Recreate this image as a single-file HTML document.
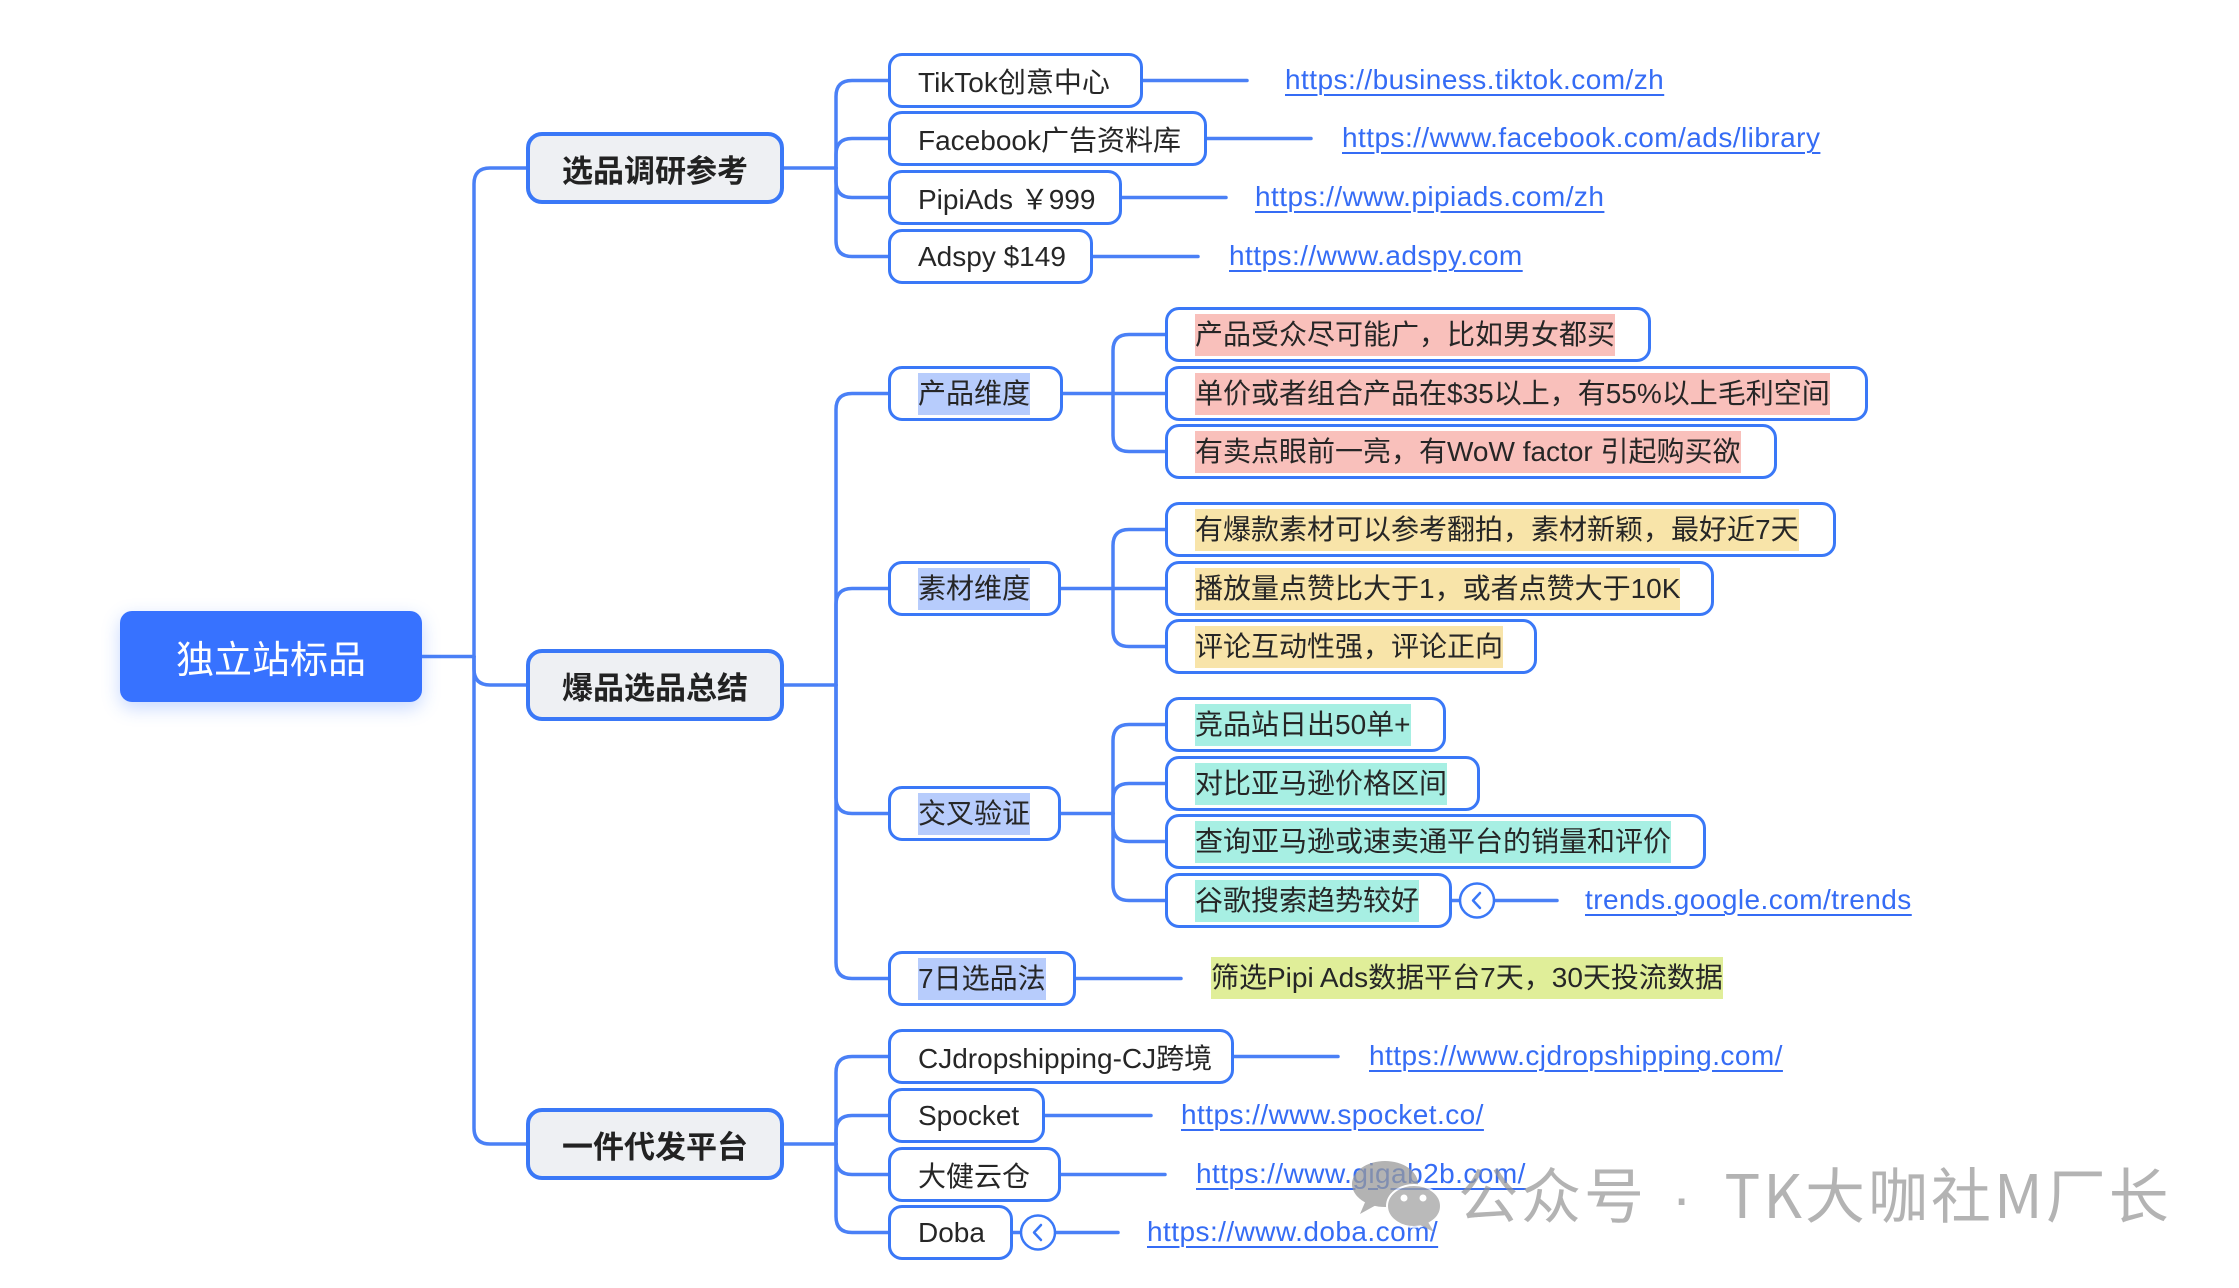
<!DOCTYPE html>
<html>
<head>
<meta charset="utf-8">
<style>
  html,body{margin:0;padding:0;background:#fff;}
  body{width:2239px;height:1288px;position:relative;overflow:hidden;
    font-family:"Liberation Sans","Noto Sans CJK SC",sans-serif;color:#262626;}
  .b{position:absolute;box-sizing:border-box;border:3.5px solid #3a78f7;border-radius:14px;background:#fff;
     display:flex;align-items:center;padding-left:27px;font-size:28px;white-space:nowrap;}
  .l1{position:absolute;box-sizing:border-box;border:4px solid #3a78f7;border-radius:16px;background:#eef0f3;
     display:flex;align-items:center;justify-content:center;font-size:31px;font-weight:bold;white-space:nowrap;color:#222;left:526px;width:258px;height:72px;}
  .h{display:inline-block;height:42px;line-height:42px;}
  .pk{background:#f9c0bb;}
  .yl{background:#f8e4a9;}
  .tl{background:#a7efe3;}
  .bl{background:#b7ccfc;}
  .lm{background:#e0ee99;}
  .lk{position:absolute;font-size:28px;line-height:42px;height:42px;color:#356cf5;text-decoration:underline;text-underline-offset:5px;text-decoration-thickness:2px;white-space:nowrap;letter-spacing:0.45px;}
  .root{position:absolute;left:120px;top:611px;width:302px;height:91px;background:#3772ff;border-radius:12px;
    box-shadow:0 6px 18px rgba(55,114,255,0.28);color:#fff;font-size:38px;display:flex;align-items:center;justify-content:center;}
  svg{position:absolute;left:0;top:0;}
</style>
</head>
<body>
<svg width="2239" height="1288" viewBox="0 0 2239 1288">
  <g fill="none" stroke="#4a80f6" stroke-width="3.5" stroke-linecap="round">
    <path d="M422 656.5 L474 656.5"/>
    <path d="M474 656.5 L474 184 Q474 168 490 168 L526 168"/>
    <path d="M474 656.5 L474 669 Q474 685 490 685 L526 685"/>
    <path d="M474 656.5 L474 1128 Q474 1144 490 1144 L526 1144"/>
    <path d="M784 168 L836 168"/>
    <path d="M836 168 L836 96.5 Q836 80.5 852 80.5 L888 80.5"/>
    <path d="M836 168 L836 154.5 Q836 138.5 852 138.5 L888 138.5"/>
    <path d="M836 168 L836 181.5 Q836 197.5 852 197.5 L888 197.5"/>
    <path d="M836 168 L836 240.5 Q836 256.5 852 256.5 L888 256.5"/>
    <path d="M784 685 L836 685"/>
    <path d="M836 685 L836 409.5 Q836 393.5 852 393.5 L888 393.5"/>
    <path d="M836 685 L836 604.5 Q836 588.5 852 588.5 L888 588.5"/>
    <path d="M836 685 L836 797.5 Q836 813.5 852 813.5 L888 813.5"/>
    <path d="M836 685 L836 962.5 Q836 978.5 852 978.5 L888 978.5"/>
    <path d="M784 1144 L836 1144"/>
    <path d="M836 1144 L836 1072.5 Q836 1056.5 852 1056.5 L888 1056.5"/>
    <path d="M836 1144 L836 1131.5 Q836 1115.5 852 1115.5 L888 1115.5"/>
    <path d="M836 1144 L836 1158.5 Q836 1174.5 852 1174.5 L888 1174.5"/>
    <path d="M836 1144 L836 1216.5 Q836 1232.5 852 1232.5 L888 1232.5"/>
    <path d="M1063 393.5 L1165 393.5"/>
    <path d="M1113 393.5 L1113 350.5 Q1113 334.5 1129 334.5 L1165 334.5"/>
    <path d="M1113 393.5 L1113 435.5 Q1113 451.5 1129 451.5 L1165 451.5"/>
    <path d="M1061 588.5 L1165 588.5"/>
    <path d="M1113 588.5 L1113 545.5 Q1113 529.5 1129 529.5 L1165 529.5"/>
    <path d="M1113 588.5 L1113 630.5 Q1113 646.5 1129 646.5 L1165 646.5"/>
    <path d="M1061 813.5 L1113 813.5"/>
    <path d="M1113 813.5 L1113 740.5 Q1113 724.5 1129 724.5 L1165 724.5"/>
    <path d="M1113 813.5 L1113 799.5 Q1113 783.5 1129 783.5 L1165 783.5"/>
    <path d="M1113 813.5 L1113 825.5 Q1113 841.5 1129 841.5 L1165 841.5"/>
    <path d="M1113 813.5 L1113 884.5 Q1113 900.5 1129 900.5 L1165 900.5"/>
    <path d="M1143 80.5 L1247 80.5"/>
    <path d="M1207 138.5 L1311 138.5"/>
    <path d="M1122 197.5 L1226 197.5"/>
    <path d="M1093 256.5 L1198 256.5"/>
    <path d="M1452 900.5 L1460 900.5"/>
    <path d="M1494 900.5 L1557 900.5"/>
    <path d="M1076 978.5 L1181 978.5"/>
    <path d="M1234 1056.5 L1338 1056.5"/>
    <path d="M1045 1115.5 L1151 1115.5"/>
    <path d="M1061 1174.5 L1165 1174.5"/>
    <path d="M1013 1232.5 L1021 1232.5"/>
    <path d="M1055 1232.5 L1118 1232.5"/>
  </g>
  <g fill="#fff" stroke="#3a78f7" stroke-width="2.5">
    <circle cx="1477" cy="900.5" r="17"/>
    <circle cx="1038" cy="1232.5" r="17"/>
  </g>
  <g fill="none" stroke="#3a78f7" stroke-width="2.5" stroke-linecap="round" stroke-linejoin="round">
    <path d="M1480 893 L1473 900.5 L1480 908"/>
    <path d="M1041 1225 L1034 1232.5 L1041 1240"/>
  </g>
</svg>

<div class="root">独立站标品</div>

<div class="l1" style="top:132px;">选品调研参考</div>
<div class="l1" style="top:649px;">爆品选品总结</div>
<div class="l1" style="top:1108px;">一件代发平台</div>

<div class="b" style="left:888px;top:53px;width:255px;height:55px;">TikTok创意中心</div>
<div class="b" style="left:888px;top:111px;width:319px;height:55px;">Facebook广告资料库</div>
<div class="b" style="left:888px;top:170px;width:234px;height:55px;">PipiAds ￥999</div>
<div class="b" style="left:888px;top:229px;width:205px;height:55px;">Adspy $149</div>

<div class="lk" style="left:1285px;top:59px;">https://business.tiktok.com/zh</div>
<div class="lk" style="left:1342px;top:117px;">https://www.facebook.com/ads/library</div>
<div class="lk" style="left:1255px;top:176px;">https://www.pipiads.com/zh</div>
<div class="lk" style="left:1229px;top:235px;">https://www.adspy.com</div>

<div class="b" style="left:888px;top:366px;width:175px;height:55px;"><span class="h bl">产品维度</span></div>
<div class="b" style="left:888px;top:561px;width:173px;height:55px;"><span class="h bl">素材维度</span></div>
<div class="b" style="left:888px;top:786px;width:173px;height:55px;"><span class="h bl">交叉验证</span></div>
<div class="b" style="left:888px;top:951px;width:188px;height:55px;"><span class="h bl">7日选品法</span></div>

<div class="b" style="left:1165px;top:307px;width:486px;height:55px;"><span class="h pk">产品受众尽可能广，比如男女都买</span></div>
<div class="b" style="left:1165px;top:366px;width:703px;height:55px;"><span class="h pk">单价或者组合产品在$35以上，有55%以上毛利空间</span></div>
<div class="b" style="left:1165px;top:424px;width:612px;height:55px;"><span class="h pk">有卖点眼前一亮，有WoW factor 引起购买欲</span></div>

<div class="b" style="left:1165px;top:502px;width:671px;height:55px;"><span class="h yl">有爆款素材可以参考翻拍，素材新颖，最好近7天</span></div>
<div class="b" style="left:1165px;top:561px;width:549px;height:55px;"><span class="h yl">播放量点赞比大于1，或者点赞大于10K</span></div>
<div class="b" style="left:1165px;top:619px;width:372px;height:55px;"><span class="h yl">评论互动性强，评论正向</span></div>

<div class="b" style="left:1165px;top:697px;width:281px;height:55px;"><span class="h tl">竞品站日出50单+</span></div>
<div class="b" style="left:1165px;top:756px;width:315px;height:55px;"><span class="h tl">对比亚马逊价格区间</span></div>
<div class="b" style="left:1165px;top:814px;width:541px;height:55px;"><span class="h tl">查询亚马逊或速卖通平台的销量和评价</span></div>
<div class="b" style="left:1165px;top:873px;width:287px;height:55px;"><span class="h tl">谷歌搜索趋势较好</span></div>

<div class="lk" style="left:1585px;top:879px;">trends.google.com/trends</div>

<div style="position:absolute;left:1211px;top:957px;font-size:28px;white-space:nowrap;"><span class="h lm">筛选Pipi Ads数据平台7天，30天投流数据</span></div>

<div class="b" style="left:888px;top:1029px;width:346px;height:55px;">CJdropshipping-CJ跨境</div>
<div class="b" style="left:888px;top:1088px;width:157px;height:55px;">Spocket</div>
<div class="b" style="left:888px;top:1147px;width:173px;height:55px;">大健云仓</div>
<div class="b" style="left:888px;top:1205px;width:125px;height:55px;">Doba</div>

<div class="lk" style="left:1369px;top:1035px;">https://www.cjdropshipping.com/</div>
<div class="lk" style="left:1181px;top:1094px;">https://www.spocket.co/</div>
<div class="lk" style="left:1196px;top:1153px;">https://www.gigab2b.com/</div>
<div class="lk" style="left:1147px;top:1211px;">https://www.doba.com/</div>

<svg width="2239" height="1288" viewBox="0 0 2239 1288" style="pointer-events:none;">
  <g opacity="0.75">
    <ellipse cx="1385" cy="1184" rx="33" ry="23" fill="#9a9a9a"/>
    <path d="M1366 1200 L1360 1214 L1378 1204 Z" fill="#9a9a9a"/>
    <ellipse cx="1414" cy="1206" rx="27" ry="21" fill="#a3a3a3" stroke="#fff" stroke-width="2"/>
    <path d="M1428 1222 L1434 1232 L1420 1225 Z" fill="#a3a3a3"/>
    <circle cx="1404" cy="1198" r="3.5" fill="#fff"/>
    <circle cx="1423" cy="1198" r="3.5" fill="#fff"/>
  </g>
</svg>
<div style="position:absolute;left:1458px;top:1150px;font-size:60px;line-height:86px;color:rgba(150,150,150,0.72);white-space:nowrap;letter-spacing:3px;font-family:'Noto Sans CJK SC','Liberation Sans',sans-serif;">公众号<span style="font-family:'Liberation Sans',sans-serif;letter-spacing:8px;"> · </span>TK大咖社M厂长</div>

</body>
</html>
